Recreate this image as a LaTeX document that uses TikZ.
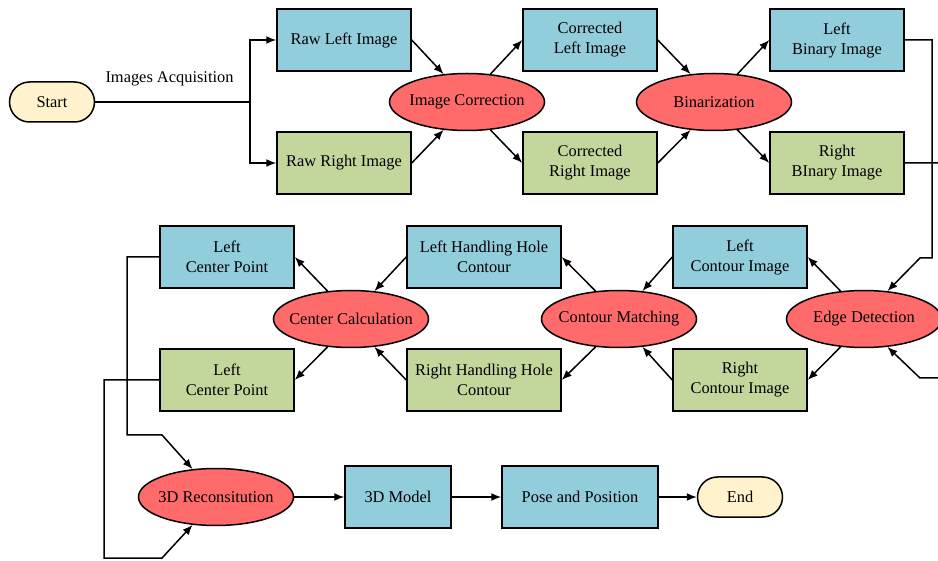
\documentclass[tikz,border=0pt]{standalone}
\usepackage{fontspec}
\setmainfont{Liberation Serif}
\usepackage{tikz}
\usetikzlibrary{arrows.meta}
\usetikzlibrary{shapes.geometric}
\usepackage{xcolor}
\definecolor{ColBlue}{RGB}{146,205,220}
\definecolor{ColGreen}{RGB}{195,214,155}
\definecolor{ColRed}{RGB}{255,107,107}
\definecolor{ColTerm}{RGB}{255,242,204}
\tikzstyle{NodeFlow}=[draw=black,line width=1.5pt,align=center,inner sep=0pt,
font=\fontsize{16.4}{20}\selectfont]
\tikzstyle{LeftBox}=[NodeFlow,rectangle,fill=ColBlue,minimum width=134pt,minimum height=62pt]
\tikzstyle{RightBox}=[LeftBox,fill=ColGreen]
\tikzstyle{StepFlow}=[NodeFlow,ellipse,fill=ColRed,inner xsep=-20pt,minimum width=155pt,
minimum height=57pt]
\tikzstyle{TermFlow}=[NodeFlow,rectangle,rounded corners=20pt,fill=ColTerm,minimum width=85pt,
minimum height=40pt]
\tikzstyle{LabelFlow}=[font=\fontsize{16.4}{20}\selectfont]
\tikzstyle{EdgeFlow}=[black,line width=1.5pt]
\tikzstyle{ArcFlow}=[EdgeFlow,-{Latex[length=10pt,width=8pt]}]

\begin{document}
\begin{tikzpicture}[x=1pt,y=-1pt]
        \useasboundingbox(0,0)rectangle(938,561);
        \node[TermFlow](st)at(52,102){Start};
        \node[LeftBox](rawl)at(344,40){Raw Left Image};
        \node[RightBox](rawr)at(344,163){Raw Right Image};
        \node[StepFlow](corr)at(467,102){Image Correction};
        \node[LeftBox](cl)at(590,40){Corrected\\Left Image};
        \node[RightBox](cr)at(590,163){Corrected\\Right Image};
        \node[StepFlow](bin)at(714,102){Binarization};
        \node[LeftBox](bl)at(837,40){Left\\Binary Image};
        \node[RightBox](br)at(837,163){Right\\BInary Image};
        \node[StepFlow](edet)at(864,319){Edge Detection};
        \node[LeftBox](ctl)at(740,257){Left\\Contour Image};
        \node[RightBox](ctr)at(740,380){Right\\Contour Image};
        \node[StepFlow](match)at(619,319){Contour Matching};
        \node[LeftBox,minimum width=154pt](hl)at(484,257){Left Handling Hole\\Contour};
        \node[RightBox,minimum width=154pt](hr)at(484,380){Right Handling Hole\\Contour};
        \node[StepFlow](calc)at(351,319){Center Calculation};
        \node[LeftBox](pl)at(227,257){Left\\Center Point};
        \node[RightBox](pr)at(227,380){Left\\Center Point};
        \node[StepFlow](recon)at(216,497){3D Reconsitution};
        \node[LeftBox,minimum width=106pt](model)at(398,497){3D Model};
        \node[LeftBox,minimum width=156pt](pose)at(580,497){Pose and Position};
        \node[TermFlow](fin)at(740,497){End};
        \coordinate(split)at(250,102);
        \coordinate(k1)at(932,258);
        \coordinate(k2)at(920,258);
        \coordinate(k3)at(950,378);
        \coordinate(k4)at(920,378);
        \coordinate(k5)at(127,435);
        \coordinate(k6)at(162,435);
        \coordinate(k7)at(104,558);
        \coordinate(k8)at(162,558);
        \draw[EdgeFlow](st)--(split)node[LabelFlow,pos=.48,above=12pt]{Images Acquisition};
        \draw[ArcFlow](split)|-(rawl.west);
        \draw[ArcFlow](split)|-(rawr.west);
        \draw[ArcFlow](rawl.east)--(corr.130);
        \draw[ArcFlow](rawr.east)--(corr.230);
        \draw[ArcFlow](corr.50)--(cl.west);
        \draw[ArcFlow](corr.310)--(cr.west);
        \draw[ArcFlow](cl.east)--(bin.130);
        \draw[ArcFlow](cr.east)--(bin.230);
        \draw[ArcFlow](bin.50)--(bl.west);
        \draw[ArcFlow](bin.310)--(br.west);
        \draw[ArcFlow](bl.east)-|(k1)--(k2)--(edet.50);
        \draw[ArcFlow](br.east)-|(k3)--(k4)--(edet.310);
        \draw[ArcFlow](edet.130)--(ctl.east);
        \draw[ArcFlow](edet.230)--(ctr.east);
        \draw[ArcFlow](ctl.west)--(match.50);
        \draw[ArcFlow](ctr.west)--(match.310);
        \draw[ArcFlow](match.130)--(hl.east);
        \draw[ArcFlow](match.230)--(hr.east);
        \draw[ArcFlow](hl.west)--(calc.50);
        \draw[ArcFlow](hr.west)--(calc.310);
        \draw[ArcFlow](calc.130)--(pl.east);
        \draw[ArcFlow](calc.230)--(pr.east);
        \draw[ArcFlow](pl.west)-|(k5)--(k6)--(recon.130);
        \draw[ArcFlow](pr.west)-|(k7)--(k8)--(recon.230);
        \draw[ArcFlow](recon.east)--(model.west);
        \draw[ArcFlow](model.east)--(pose.west);
        \draw[ArcFlow](pose.east)--(fin.west);
    \end{tikzpicture}
\end{document}
